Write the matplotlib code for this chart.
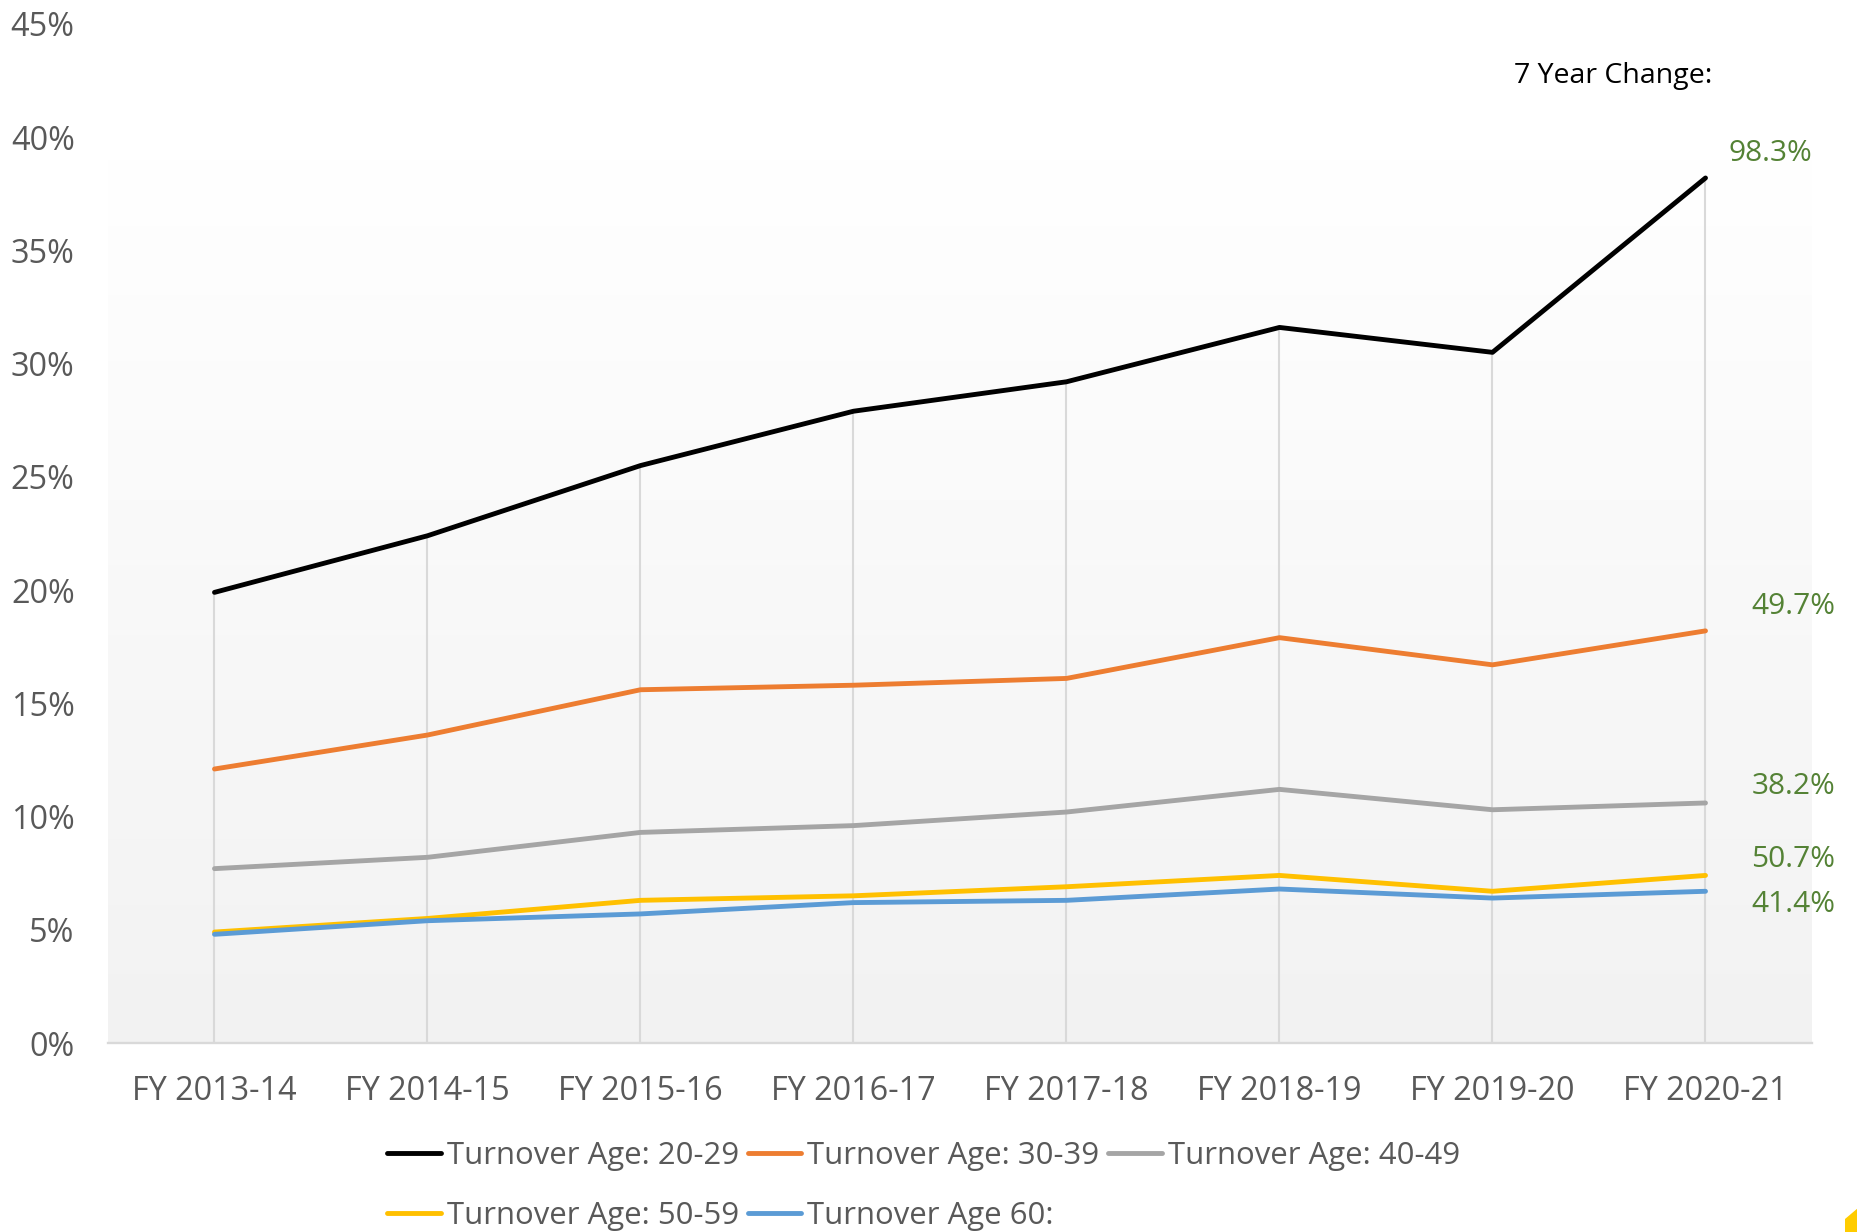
import numpy as np
import matplotlib
matplotlib.use("Agg")
import matplotlib.pyplot as plt
from matplotlib.patches import Polygon
from matplotlib.ticker import FuncFormatter
from matplotlib.colors import LinearSegmentedColormap

# ---------------- data ----------------
categories = ["FY 2013-14", "FY 2014-15", "FY 2015-16", "FY 2016-17",
              "FY 2017-18", "FY 2018-19", "FY 2019-20", "FY 2020-21"]
age_20_29 = [19.9, 22.4, 25.5, 27.9, 29.2, 31.6, 30.5, 38.2]
age_30_39 = [12.1, 13.6, 15.6, 15.8, 16.1, 17.9, 16.7, 18.2]
age_40_49 = [7.7, 8.2, 9.3, 9.6, 10.2, 11.2, 10.3, 10.6]
age_50_59 = [4.9, 5.5, 6.3, 6.5, 6.9, 7.4, 6.7, 7.4]
age_60 = [4.8, 5.4, 5.7, 6.2, 6.3, 6.8, 6.4, 6.7]
series_names = ["Turnover Age: 20-29", "Turnover Age: 30-39", "Turnover Age: 40-49",
                "Turnover Age: 50-59", "Turnover Age 60:"]
change_labels = ["98.3%", "49.7%", "38.2%", "50.7%", "41.4%"]
y_ticks = [0, 5, 10, 15, 20, 25, 30, 35, 40, 45]

series = [age_20_29, age_30_39, age_40_49, age_50_59, age_60]
colors = ["#000000", "#ED7D31", "#A5A5A5", "#FFC000", "#5B9BD5"]
# label offsets (pixels) from each line's last point
label_offsets = [(65, 24), (88, 24), (88, 16), (88, 16), (88, -13)]

plt.rcParams['font.family'] = ['Open Sans', 'DejaVu Sans']

W, H = 1858, 1232
fig = plt.figure(figsize=(W / 100, H / 100), dpi=100)
left, right, bottom, top = 108, 1812, 1043, 24
ax = fig.add_axes([left / W, 1 - bottom / H, (right - left) / W, (bottom - top) / H])

x = np.arange(len(categories))
ax.set_xlim(-0.5, len(categories) - 0.5)
ax.set_ylim(0, 45)

# gradient plot area
grad_top = (bottom - 157) / (bottom - top)
grad = np.linspace(0, 1, 256).reshape(-1, 1)
cmap = LinearSegmentedColormap.from_list("g", ["#f2f2f2", "#ffffff"])
ax.imshow(grad, cmap=cmap, aspect='auto', origin='lower',
          extent=(0, 1, 0, grad_top), transform=ax.transAxes, zorder=0)

# drop lines
maxvals = np.max(np.array(series), axis=0)
ax.vlines(x, 0, maxvals, colors="#d9d9d9", linewidth=1.5, zorder=1)

handles = []
for vals, c, name in zip(series, colors, series_names):
    h, = ax.plot(x, vals, color=c, linewidth=3.5, solid_capstyle='round',
                 solid_joinstyle='round', label=name, zorder=3)
    handles.append(h)

for vals, lab, off in zip(series, change_labels, label_offsets):
    ax.annotate(lab, xy=(x[-1], vals[-1]), xytext=off, textcoords='offset pixels',
                ha='center', va='center', color="#548235", fontsize=21.5,
                annotation_clip=False)

for s in ["top", "right", "left"]:
    ax.spines[s].set_visible(False)
ax.spines["bottom"].set_color("#d9d9d9")
ax.spines["bottom"].set_linewidth(1.7)
ax.spines["bottom"].set_zorder(2)

ax.set_xticks(x)
ax.set_xticklabels(categories)
ax.set_yticks(y_ticks)
ax.yaxis.set_major_formatter(FuncFormatter(lambda v, p: f"{v:.0f}%"))
ax.tick_params(axis='both', length=0, labelcolor="#595959")
ax.tick_params(axis='y', pad=24, labelsize=23.3)
ax.tick_params(axis='x', pad=23, labelsize=23.3)

fig.text(1613 / W, 1 - 76 / H, "7 Year Change:", ha='center', va='center',
         fontsize=20.5, color="#000000")

order = [0, 3, 1, 4, 2]
leg = fig.legend([handles[i] for i in order], [series_names[i] for i in order],
                 ncol=3, loc='upper left', bbox_to_anchor=(387 / W, 1 - 1141 / H),
                 frameon=False, fontsize=22.4, handlelength=1.72, handletextpad=0.2,
                 columnspacing=0.28, labelspacing=0.97, borderpad=0, borderaxespad=0)
for t in leg.get_texts():
    t.set_color("#595959")
for lh in leg.get_lines():
    lh.set_linewidth(3.5)

# small yellow corner decoration
fig.patches.append(Polygon([[1845 / W, 0], [1845 / W, 1 - 1219 / H], [1, 1 - 1208 / H], [1, 0]],
                           closed=True, transform=fig.transFigure, facecolor="#FFCC00",
                           edgecolor='none'))

fig.savefig("out.png", dpi=100, facecolor="white")
